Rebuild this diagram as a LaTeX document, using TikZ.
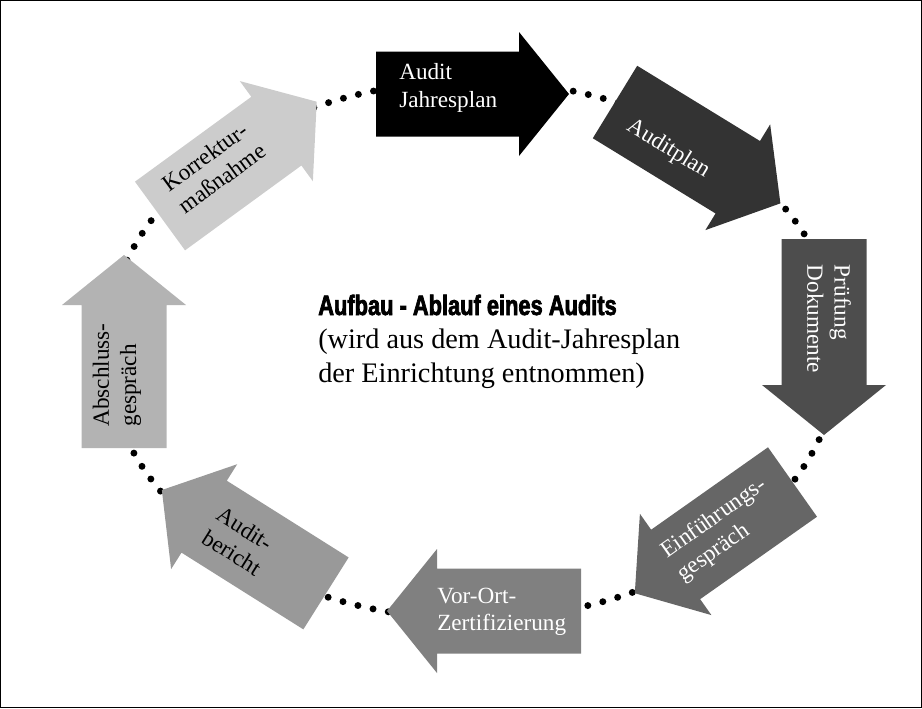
\documentclass[tikz,border=0pt]{standalone}
\usepackage{fontspec}
\setmainfont{Liberation Serif}
\newfontfamily\headfont{Liberation Sans}[FakeStretch=0.78,FakeBold=2.5]
\definecolor{gA}{HTML}{000000}
\definecolor{gB}{HTML}{333333}
\definecolor{gC}{HTML}{4D4D4D}
\definecolor{gD}{HTML}{666666}
\definecolor{gE}{HTML}{808080}
\definecolor{gF}{HTML}{999999}
\definecolor{gG}{HTML}{B3B3B3}
\definecolor{gH}{HTML}{CCCCCC}
\newcommand\blockarr[4]{%
  \fill[#4, shift={#1}, rotate=#2] (0,-42.5) -- ({#3-50},-42.5) -- ({#3-50},-62) -- (#3,0) -- ({#3-50},62) -- ({#3-50},42.5) -- (0,42.5) -- cycle;}
\begin{document}
\begin{tikzpicture}[x=0.75pt,y=-0.75pt,
  lbl/.style={font=\fontsize{17.4}{20.5}\selectfont, align=left, inner sep=0pt},
  wlbl/.style={lbl, text=white},
  sub/.style={font=\fontsize{21.2}{25.5}\selectfont, inner sep=0pt, anchor=base west},
  dotring/.style={line width=5.2pt, line cap=round, dash pattern=on 0pt off 11.6pt}]
\useasboundingbox (0,0) rectangle (922,708);
\draw[line width=0.9pt] (0.6,0.6) rectangle (921.4,707.4);
% dotted ring
\draw[dotring] (473,350) ellipse [x radius=367, y radius=269];
% arrows
\blockarr{(376,94)}{0}{193}{gA}
\blockarr{(615,102)}{-31.5}{194}{gB}
\blockarr{(824,239)}{-90}{196}{gC}
\blockarr{(792.5,482)}{-144.8}{193}{gD}
\blockarr{(581,611)}{180}{194}{gE}
\blockarr{(326,593.4)}{147.8}{194}{gF}
\blockarr{(124,448)}{90}{193}{gG}
\blockarr{(160,216)}{36.1}{194}{gH}
% labels
\node[wlbl, anchor=west] (t1) at (399,88) {Audit\\Jahresplan};
\node[wlbl, rotate=-31.5] (t2) at (668,149) {Auditplan};
\node[wlbl, rotate=-90] (t3) at (829,319) {Prüfung\\Dokumente};
\node[wlbl, rotate=35.2] (t4) at (722,530) {Einführungs-\\gespräch};
\node[wlbl, anchor=west] (t5) at (437,612) {Vor-Ort-\\Zertifizierung};
\node[lbl, rotate=-32.2] (t6) at (239,541) {Audit-\\bericht};
\node[lbl, rotate=90] (t7) at (117,375) {Abschluss-\\gespräch};
\node[lbl, rotate=36.1] (t8) at (214,167) {Korrektur-\\maßnahme};
% centre text
\node[anchor=base west, inner sep=0pt, font=\headfont\bfseries\fontsize{21}{25}\selectfont] (head) at (318,315) {Aufbau - Ablauf eines Audits};
\node[sub] (sub1) at (318,348) {(wird aus dem Audit-Jahresplan};
\node[sub] (sub2) at (318,382) {der Einrichtung entnommen)};
\end{tikzpicture}
\end{document}
